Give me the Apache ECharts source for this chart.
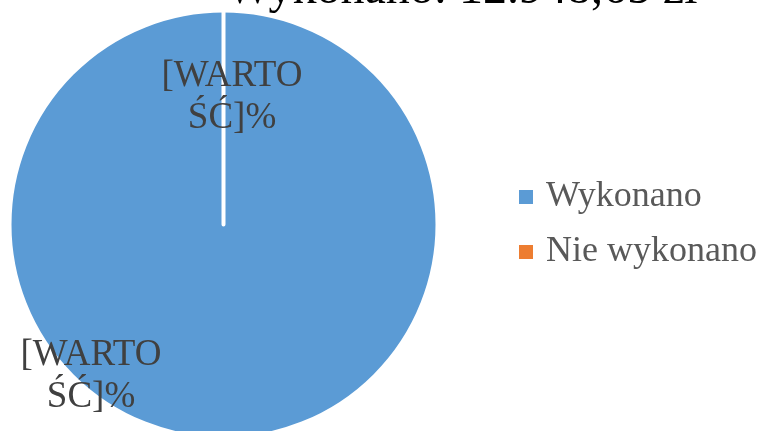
<!DOCTYPE html>
<html>
<head>
<meta charset="utf-8">
<script src="https://cdn.jsdelivr.net/npm/echarts@6/dist/echarts.min.js"></script>
<style>
html,body{margin:0;padding:0;background:#fff;}
#c{width:765px;height:431px;}
</style>
</head>
<body>
<div id="c"></div>
<script>
var titleText = 'Wykonano: 12.948,65 zł';
var categories = ['Wykonano', 'Nie wykonano'];
var values = [12948.65, 0];
var colors = ['#5B9BD5', '#ED7D31'];
var labelText = '[WARTO\nŚĆ]%';

var chart = echarts.init(document.getElementById('c'));
var font = '"Liberation Serif", "Times New Roman", serif';
var labelPos = [[91, 376], [232, 97]];

chart.setOption({
  animation: false,
  backgroundColor: '#fff',
  color: colors,
  title: {
    text: titleText,
    left: 226,
    top: -34,
    padding: 0,
    textStyle: { fontFamily: font, fontSize: 48, fontWeight: 'normal', color: '#000' }
  },
  legend: {
    orient: 'vertical',
    left: 519,
    top: 179,
    padding: 0,
    itemGap: 19,
    itemWidth: 14,
    itemHeight: 14,
    icon: 'rect',
    itemStyle: { borderWidth: 0 },
    data: categories,
    textStyle: { fontFamily: font, fontSize: 36, lineHeight: 36, color: '#595959', padding: [0, 0, 0, 8] }
  },
  series: [{
    type: 'pie',
    center: [223.5, 224.5],
    radius: 214,
    startAngle: 90,
    clockwise: true,
    avoidLabelOverlap: false,
    minAngle: 0,
    itemStyle: { borderColor: '#fff', borderWidth: 4 },
    label: {
      show: true,
      position: 'inside',
      formatter: function () { return labelText; },
      fontFamily: font,
      fontSize: 37,
      lineHeight: 42,
      color: '#404040',
      align: 'center',
      verticalAlign: 'middle'
    },
    labelLine: { show: false },
    labelLayout: function (p) {
      var pos = labelPos[p.dataIndex];
      return { x: pos[0], y: pos[1], align: 'center', verticalAlign: 'middle' };
    },
    emphasis: { disabled: true },
    data: categories.map(function (c, i) { return { name: c, value: values[i] }; })
  }]
});
</script>
</body>
</html>
